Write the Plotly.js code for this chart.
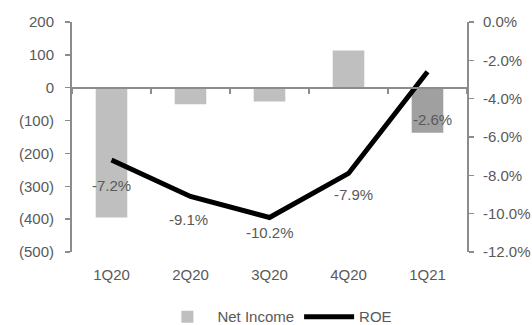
<!DOCTYPE html>
<html><head><meta charset="utf-8">
<script src="https://cdn.plot.ly/plotly-3.0.1.min.js"></script>
<style>html,body{margin:0;padding:0;background:#fff;}#chart{width:532px;height:325px;}</style>
</head><body><div id="chart"></div>
<script>
const categories = ['1Q20', '2Q20', '3Q20', '4Q20', '1Q21'];
const netIncome = [-395, -50, -42, 113, -137];
const roe = [-7.2, -9.1, -10.2, -7.9, -2.6];
const leftTickVals = [200, 100, 0, -100, -200, -300, -400, -500];
const leftTickText = ['200', '100', '0', '(100)', '(200)', '(300)', '(400)', '(500)'];
const rightTickVals = [0, -2, -4, -6, -8, -10, -12];
const rightTickText = ['0.0%', '-2.0%', '-4.0%', '-6.0%', '-8.0%', '-10.0%', '-12.0%'];

const barColors = ['#bfbfbf', '#bfbfbf', '#bfbfbf', '#bfbfbf', '#a0a0a0'];
const labelYShift = [-25, -23, -15, -21, -48];
const labelXShift = [0, -2, 0, 5, 5];
const FONT = 'Liberation Sans, Arial, sans-serif';
const TXT = '#595959';
const AX = '#8c8c8c';
const FS = 15;

const traces = [
  {type: 'bar', name: 'Net Income', x: categories, y: netIncome, xaxis: 'x', yaxis: 'y',
   marker: {color: barColors}, hoverinfo: 'none'},
  {type: 'scatter', mode: 'lines', name: 'ROE', x: categories, y: roe, xaxis: 'x2', yaxis: 'y2',
   line: {color: '#000000', width: 5}, hoverinfo: 'none'}
];

const annotations = roe.map((v, i) => ({
  x: categories[i], y: v, xref: 'x2', yref: 'y2', text: v.toFixed(1) + '%',
  showarrow: false, yshift: labelYShift[i], xshift: labelXShift[i],
  font: {family: FONT, size: FS, color: TXT}
}));

const layout = {
  width: 532, height: 325,
  margin: {l: 72, r: 65, t: 22, b: 73, autoexpand: false},
  paper_bgcolor: '#ffffff', plot_bgcolor: '#ffffff',
  font: {family: FONT, size: FS, color: TXT},
  bargap: 0.6,
  showlegend: true,
  legend: {orientation: 'h', x: 0.52, xanchor: 'center', yref: 'container', y: 0.025, yanchor: 'middle',
           font: {family: FONT, size: FS, color: TXT}, itemwidth: 50, traceorder: 'normal'},
  xaxis: {type: 'category', range: [-0.5, 4.5], showline: false, showgrid: false, zeroline: false,
          ticks: '', ticklabelstandoff: 12, automargin: false, tickfont: {family: FONT, size: FS, color: TXT}},
  xaxis2: {type: 'category', overlaying: 'x', anchor: 'free', position: 0.713, range: [-0.5, 4.5],
           showline: true, linecolor: AX, linewidth: 2, ticks: 'outside', tickson: 'boundaries',
           ticklen: 5, tickcolor: AX, tickwidth: 1.5, showticklabels: false, showgrid: false, zeroline: false},
  yaxis: {range: [-500, 200], tickvals: leftTickVals, ticktext: leftTickText, showline: true,
          linecolor: AX, linewidth: 2, ticks: 'outside', ticklen: 5, tickcolor: AX, tickwidth: 1.5,
          ticklabelstandoff: 8, automargin: false,
          showgrid: false, zeroline: false, tickfont: {family: FONT, size: FS, color: TXT}},
  yaxis2: {overlaying: 'y', side: 'right', anchor: 'x', range: [-12, 0], tickvals: rightTickVals,
           ticktext: rightTickText, showline: true, linecolor: AX, linewidth: 2,
           ticks: 'outside', ticklen: 5, tickcolor: AX, tickwidth: 1.5, showgrid: false, zeroline: false,
           ticklabelstandoff: 6, automargin: false,
           tickfont: {family: FONT, size: FS, color: TXT}},
  annotations: annotations
};

Plotly.newPlot('chart', traces, layout, {displayModeBar: false, staticPlot: true});
</script></body></html>
